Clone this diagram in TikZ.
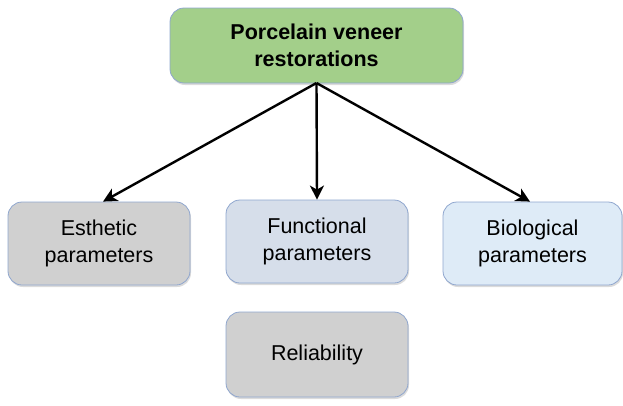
\documentclass[tikz,border=0pt]{standalone}
\usepackage{fontspec}
\setmainfont{Liberation Sans}
\usepackage{tikz}
\usetikzlibrary{arrows.meta,shadows}

\definecolor{boxline}{HTML}{8FA6CE}
\definecolor{topgreen}{HTML}{A3CF8A}
\definecolor{boxgray}{HTML}{D0D0D0}
\definecolor{funcblue}{HTML}{D6DEEA}
\definecolor{bioblue}{HTML}{DEEBF7}

\begin{document}
\begin{tikzpicture}[x=1pt,y=-1pt,font=\fontsize{21.5}{27}\selectfont]
    \tikzstyle{para box}=[rectangle,rounded corners=14pt,draw=boxline,line width=0.8pt,
        align=center,inner sep=0pt,text=black,
        drop shadow={shadow xshift=1pt,shadow yshift=-2pt,opacity=.35,fill=black!40}]
    \tikzstyle{link}=[black,line width=2.4pt,-{Stealth[length=14pt,width=14pt,inset=4pt]}]

    \useasboundingbox (0,0) rectangle (623,405);

    \node(top)[para box,fill=topgreen,minimum width=293pt,minimum height=75pt,
        font=\fontsize{21.5}{27}\selectfont\bfseries] at (316.5,45.5)
        {Porcelain veneer\\restorations};
    \node(esth)[para box,fill=boxgray,minimum width=182pt,minimum height=83pt] at (99,243.5)
        {Esthetic\\parameters};
    \node(func)[para box,fill=funcblue,minimum width=182pt,minimum height=83pt] at (317,241.5)
        {Functional\\parameters};
    \node(bio)[para box,fill=bioblue,minimum width=179pt,minimum height=83pt] at (532.5,243.5)
        {Biological\\parameters};
    \node(rel)[para box,fill=boxgray,minimum width=182pt,minimum height=85pt] at (317,354.5)
        {Reliability};

    \coordinate(hub) at (316.5,83);
    \draw[link] (hub) -- (esth.north -| 103,0);
    \draw[link] (hub) -- (func.north);
    \draw[link] (hub) -- (bio.north -| 530,0);
\end{tikzpicture}
\end{document}
